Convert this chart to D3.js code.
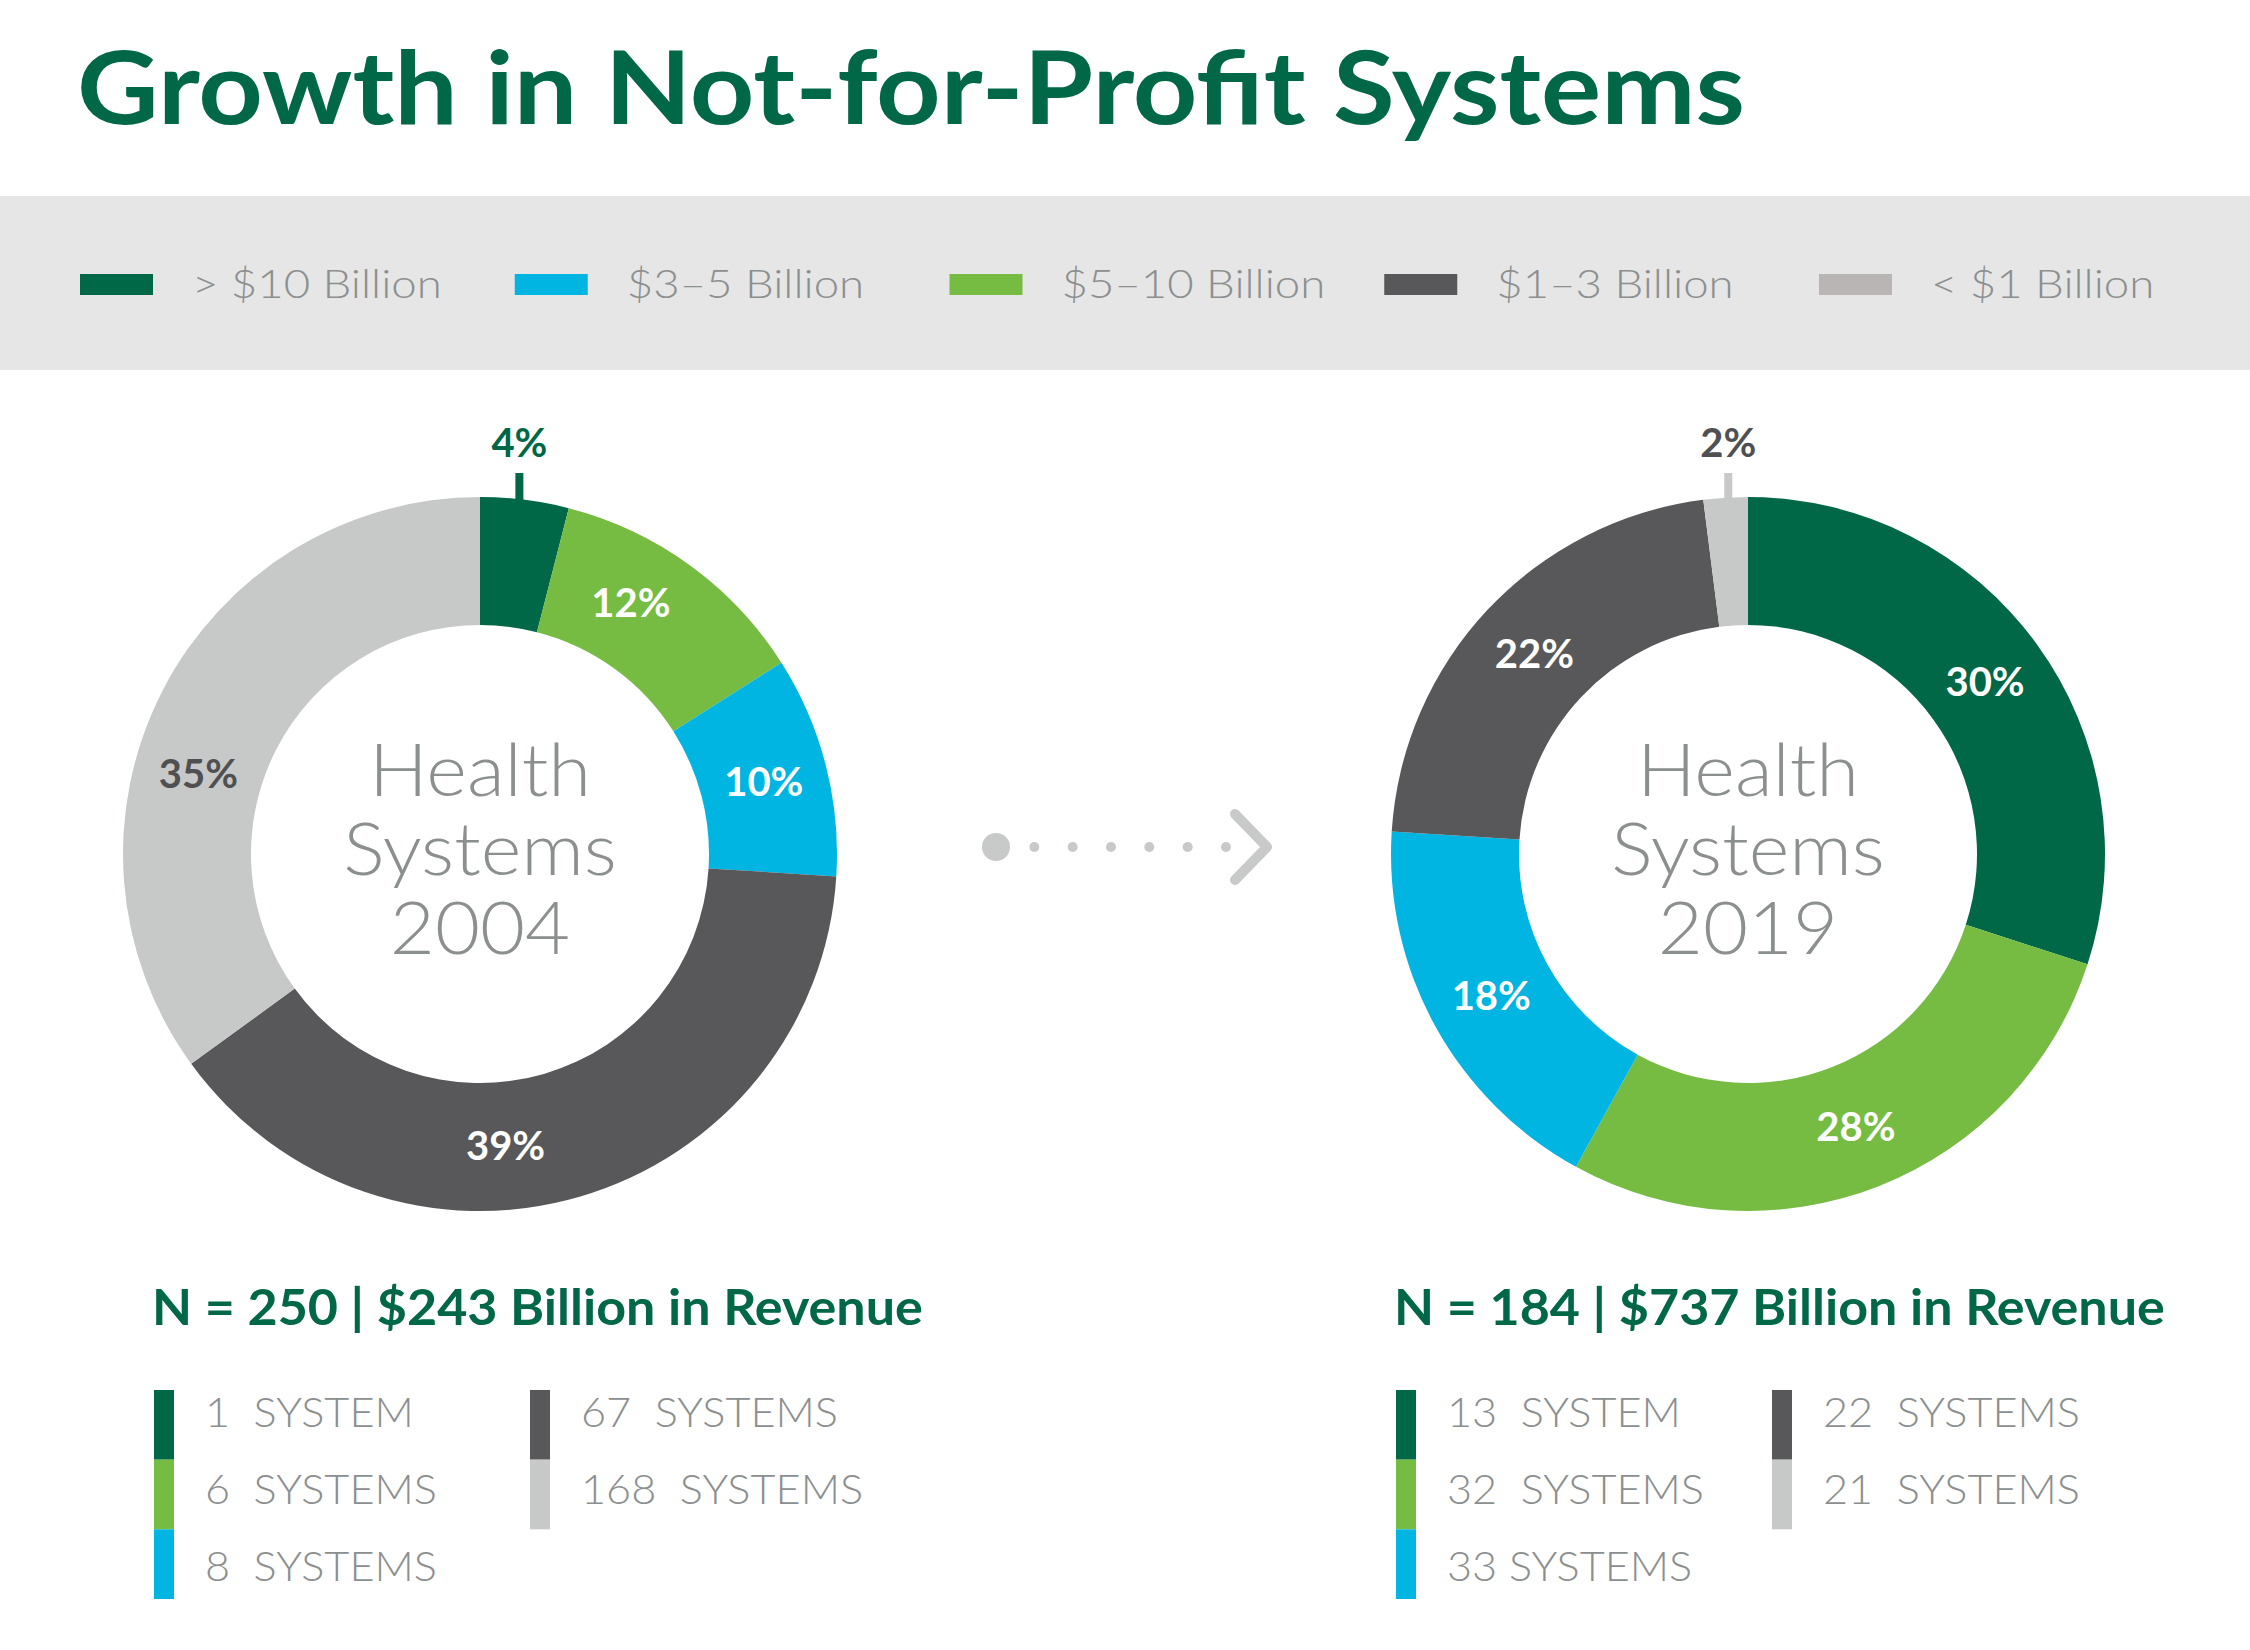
<!DOCTYPE html>
<html lang="en">
<head>
<meta charset="UTF-8">
<title>Growth in Not-for-Profit Systems</title>
<style>
  body { margin: 0; background: #fff; }
  svg { display: block; }
  text { font-family: Lato, "Noto Sans", sans-serif; }
</style>
</head>
<body>
<div id="chart"></div>
<script src="https://cdnjs.cloudflare.com/ajax/libs/d3/7.8.5/d3.min.js"></script>
<script>
// revenue bands, in the order the donut slices run (clockwise from 12 o'clock)
const categories = ["> $10 Billion", "$5\u201310 Billion", "$3\u20135 Billion", "$1\u20133 Billion", "< $1 Billion"];
// order of the grey legend band
const legendOrder = ["> $10 Billion", "$3\u20135 Billion", "$5\u201310 Billion", "$1\u20133 Billion", "< $1 Billion"];

const share2004 = [4, 12, 10, 39, 35];
const share2019 = [30, 28, 18, 22, 2];

const systems2004 = ["1  SYSTEM", "6  SYSTEMS", "8  SYSTEMS", "67  SYSTEMS", "168  SYSTEMS"];
const systems2019 = ["13  SYSTEM", "32  SYSTEMS", "33 SYSTEMS", "22  SYSTEMS", "21  SYSTEMS"];

const years = ["2004", "2019"];
const totalSystems = [250, 184];
const revenueBillions = [243, 737];

// hand placed label angles (degrees) in the 2004 donut, null = slice middle
const labelAngle2004 = [null, 31, null, 175, 286];

const colors = {
    "> $10 Billion": "#006747",
    "$5\u201310 Billion": "#76BC43",
    "$3\u20135 Billion": "#00B5E2",
    "$1\u20133 Billion": "#58585A",
    "< $1 Billion": "#C7C8C8"
};
const swatchColors = Object.assign({}, colors, { "< $1 Billion": "#B8B5B4" });

const W = 2250, H = 1650;
const green = "#006747", textGrey = "#8C8F8F", arrowGrey = "#C8C9C9";

const svg = d3.select("#chart").append("svg")
    .attr("width", W)
    .attr("height", H)
    .attr("viewBox", `0 0 ${W} ${H}`);

svg.append("rect").attr("width", W).attr("height", H).attr("fill", "#fff");

// make Lato take the wider footprint of the original typeface
function stretch(sel, k) {
    sel.each(function () {
        const w = this.getComputedTextLength();
        d3.select(this).attr("textLength", w * k).attr("lengthAdjust", "spacingAndGlyphs");
    });
}

// title
svg.append("text")
    .attr("x", 77)
    .attr("y", 124)
    .attr("fill", green)
    .attr("font-size", 101)
    .attr("font-weight", 700)
    .text("Growth in Not-for-Profit Systems")
    .call(stretch, 1.115);

// legend band
svg.append("rect")
    .attr("x", 0).attr("y", 196)
    .attr("width", W).attr("height", 174)
    .attr("fill", "#E6E6E6");

const legendX = d3.scalePoint().domain(legendOrder).range([80, 1819]);

const legend = svg.append("g").selectAll("g")
    .data(legendOrder)
    .join("g")
    .attr("transform", d => `translate(${legendX(d)},0)`);

legend.append("rect")
    .attr("y", 274)
    .attr("width", 73)
    .attr("height", 21)
    .attr("fill", d => swatchColors[d]);

legend.append("text")
    .attr("x", 112)
    .attr("y", 298)
    .attr("fill", textGrey)
    .attr("font-size", 40)
    .attr("font-weight", 300)
    .text(d => d)
    .call(stretch, 1.14);

// donuts
const rOuter = 357, rInner = 229;
const centerY = 854;
const centerX = d3.scalePoint().domain(years).range([480, 1748]);

const pie = d3.pie().sort(null).value(d => d.value);
const arc = d3.arc().innerRadius(rInner).outerRadius(rOuter);
const labelArc = d3.arc().innerRadius((rInner + rOuter) / 2).outerRadius((rInner + rOuter) / 2);

function drawDonut(year, shares, angles) {
    const data = categories.map((c, i) => ({ cat: c, value: shares[i] }));
    const g = svg.append("g").attr("transform", `translate(${centerX(year)},${centerY})`);
    const arcs = pie(data);

    g.selectAll("path")
        .data(arcs)
        .join("path")
        .attr("d", arc)
        .attr("fill", d => colors[d.data.cat]);

    arcs.forEach((d, i) => {
        const mid = (d.startAngle + d.endAngle) / 2;
        const label = d.data.value + "%";
        if (d.data.value < 5) {
            // small slice: label outside with a short tick
            const x = Math.sin(mid) * rOuter * 0.88;
            const y0 = -rOuter + 3;
            g.append("line")
                .attr("x1", x).attr("x2", x)
                .attr("y1", y0).attr("y2", y0 - 27)
                .attr("stroke", colors[d.data.cat])
                .attr("stroke-width", 8);
            g.append("text")
                .attr("x", x)
                .attr("y", y0 - 43)
                .attr("text-anchor", "middle")
                .attr("font-size", 40)
                .attr("font-weight", 700)
                .attr("fill", d.data.cat === "< $1 Billion" ? "#505052" : colors[d.data.cat])
                .text(label);
        } else {
            const a = angles && angles[i] != null ? angles[i] * Math.PI / 180 : mid;
            const p = labelArc.centroid({ startAngle: a, endAngle: a });
            g.append("text")
                .attr("x", p[0])
                .attr("y", p[1])
                .attr("dy", "0.36em")
                .attr("text-anchor", "middle")
                .attr("font-size", 40)
                .attr("font-weight", 700)
                .attr("fill", d.data.cat === "< $1 Billion" ? "#505052" : "#fff")
                .text(label);
        }
    });

    g.selectAll(".center")
        .data(["Health", "Systems", year])
        .join("text")
        .attr("class", "center")
        .attr("text-anchor", "middle")
        .attr("y", (d, i) => -58 + i * 79)
        .attr("font-size", 72)
        .attr("font-weight", 300)
        .attr("fill", textGrey)
        .text(d => d)
        .call(stretch, 1.08);
}

drawDonut("2004", share2004, labelAngle2004);
drawDonut("2019", share2019, null);

// dotted arrow between the donuts
const arrow = svg.append("g");
const dotX = d3.scaleLinear().domain([0, 6]).range([996, 1226]);
arrow.selectAll("circle")
    .data(d3.range(7))
    .join("circle")
    .attr("cx", d => dotX(d))
    .attr("cy", 847)
    .attr("r", d => d === 0 ? 14 : 5)
    .attr("fill", arrowGrey);
arrow.append("path")
    .attr("d", "M1235,814 L1267,847 L1235,880")
    .attr("fill", "none")
    .attr("stroke", arrowGrey)
    .attr("stroke-width", 10)
    .attr("stroke-linecap", "round")
    .attr("stroke-linejoin", "round");

// bottom summaries
const summaryX = d3.scalePoint().domain(years).range([152, 1394]);
const segY = d3.scaleLinear().domain([0, 3]).range([1390, 1599]);

function drawSummary(year, i, labels) {
    const g = svg.append("g").attr("transform", `translate(${summaryX(year)},0)`);

    g.append("text")
        .attr("y", 1325)
        .attr("fill", green)
        .attr("font-size", 50)
        .attr("font-weight", 700)
        .text(`N = ${totalSystems[i]} | $${revenueBillions[i]} Billion in Revenue`)
        .call(stretch, 1.04);

    const rows = categories.map((c, k) => ({
        cat: c,
        label: labels[k],
        col: k < 3 ? 0 : 1,
        row: k < 3 ? k : k - 3
    }));

    const item = g.selectAll(".item")
        .data(rows)
        .join("g")
        .attr("class", "item")
        .attr("transform", d => `translate(${d.col === 0 ? 2 : 378},0)`);

    item.append("rect")
        .attr("y", d => segY(d.row))
        .attr("width", 20)
        .attr("height", d => segY(d.row + 1) - segY(d.row))
        .attr("fill", d => colors[d.cat]);

    item.append("text")
        .attr("x", 51)
        .attr("y", d => 1427 + d.row * 77)
        .attr("fill", textGrey)
        .attr("font-size", 42)
        .attr("font-weight", 300)
        .style("white-space", "pre")
        .text(d => d.label)
        .call(stretch, 1.03);
}

drawSummary("2004", 0, systems2004);
drawSummary("2019", 1, systems2019);
</script>
</body>
</html>
